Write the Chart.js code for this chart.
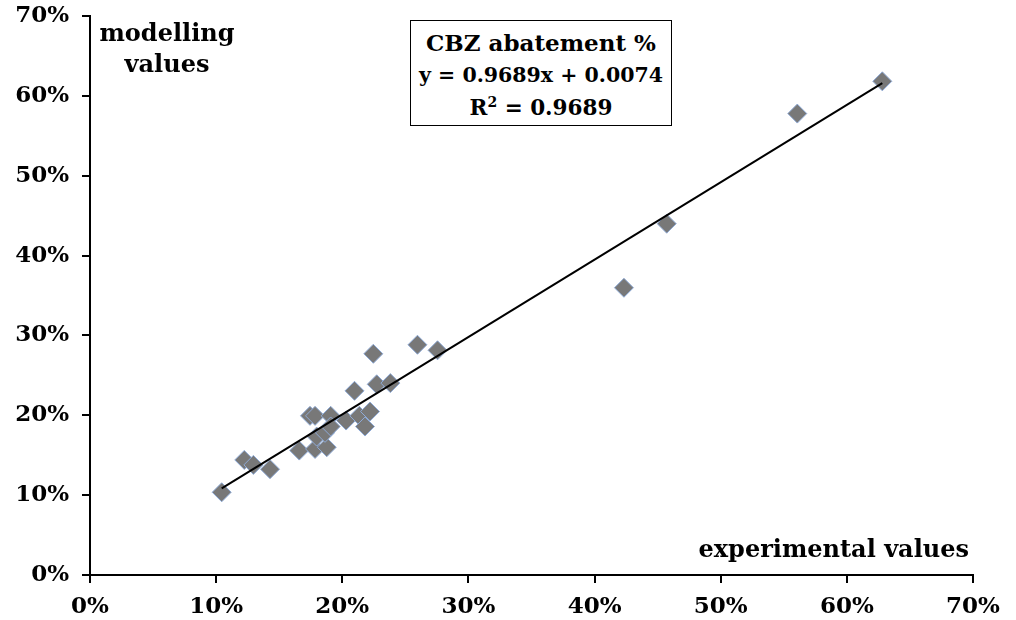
<!DOCTYPE html>
<html>
<head>
<meta charset="utf-8">
<script src="https://cdn.jsdelivr.net/npm/chart.js@4.4.0/dist/chart.umd.min.js"></script>
<style>
  html, body { margin: 0; padding: 0; background: #fff; }
  #wrap { position: relative; width: 1016px; height: 620px; }
  canvas { position: absolute; left: 0; top: 0; }
  .lbl { position: absolute; font-family: "DejaVu Serif", serif; font-weight: bold; color: #000; font-size: 24px; line-height: 31px; }
  #yTitle { left: 96px; top: 17px; width: 142px; text-align: center; }
  #xTitle { right: 47px; top: 533px; text-align: right; }
  #eqBox { left: 410px; top: 20px; width: 262px; height: 106px; border: 1.5px solid #000; background: #fff;
           text-align: center; box-sizing: border-box; padding-top: 6px; line-height: 31px; font-size: 23px; }
  #eqBox .eq { font-size: 20.5px; }
  #eqBox .r2 { font-size: 21.5px; }
</style>
</head>
<body>
<div id="wrap">
  <canvas id="chart" width="1016" height="620"></canvas>
  <div class="lbl" id="yTitle">modelling<br>values</div>
  <div class="lbl" id="xTitle">experimental values</div>
  <div class="lbl" id="eqBox">CBZ abatement %<br><span class="eq">y = 0.9689x + 0.0074</span><br><span class="r2">R<sup style="font-size:14px;line-height:0">2</sup> = 0.9689</span></div>
</div>
<script>
// experimental vs modelled CBZ abatement (fractions)
const expValues = [0.1044, 0.1223, 0.1295, 0.1427, 0.1659, 0.1784, 0.1877, 0.1744, 0.1784,
  0.1908, 0.1797, 0.1863, 0.1908, 0.2030, 0.2135, 0.2220, 0.2180, 0.2097, 0.2246, 0.2273,
  0.2381, 0.2596, 0.2755, 0.4233, 0.4572, 0.5607, 0.6281];
const modelValues = [0.1036, 0.1441, 0.1379, 0.1325, 0.1558, 0.1579, 0.1600, 0.1993, 0.1993,
  0.1993, 0.1733, 0.1780, 0.1859, 0.1934, 0.1993, 0.2047, 0.1859, 0.2306, 0.2770, 0.2388,
  0.2403, 0.2883, 0.2814, 0.3597, 0.4399, 0.5778, 0.6182];
const slope = 0.9689;
const intercept = 0.0074;
const tickValues = [0, 0.1, 0.2, 0.3, 0.4, 0.5, 0.6, 0.7];

const points = expValues.map((x, i) => ({ x: x, y: modelValues[i] }));
const xMin = Math.min(...expValues);
const xMax = Math.max(...expValues);
const trend = [
  { x: xMin, y: slope * xMin + intercept },
  { x: xMax, y: slope * xMax + intercept }
];

const tickFont = { family: 'DejaVu Serif', weight: 'bold', size: 23 };
const pct = v => Math.round(v * 100) + '%';

new Chart(document.getElementById('chart').getContext('2d'), {
  type: 'scatter',
  data: {
    datasets: [
      {
        label: 'trend',
        type: 'line',
        data: trend,
        borderColor: '#000',
        borderWidth: 2,
        pointRadius: 0,
        fill: false
      },
      {
        label: 'CBZ abatement %',
        data: points,
        pointStyle: 'rectRot',
        pointRadius: 9.5,
        pointHoverRadius: 9.5,
        backgroundColor: '#787878',
        borderColor: '#8eaad6',
        borderWidth: 1
      }
    ]
  },
  options: {
    responsive: false,
    animation: false,
    layout: { padding: { top: 16, right: 43, left: 0, bottom: 0 } },
    plugins: { legend: { display: false }, tooltip: { enabled: false } },
    scales: {
      x: {
        type: 'linear',
        min: 0, max: 0.7,
        afterBuildTicks: axis => { axis.ticks = tickValues.map(v => ({ value: v })); },
        afterFit: axis => { axis.height = 45; axis.paddingLeft = 0; axis.paddingRight = 0; },
        grid: { drawOnChartArea: false, drawTicks: true, tickLength: 8, color: '#000', lineWidth: 2 },
        border: { display: true, color: '#000', width: 2 },
        ticks: { color: '#000', font: tickFont, padding: 10, callback: pct, maxRotation: 0 }
      },
      y: {
        type: 'linear',
        min: 0, max: 0.7,
        afterBuildTicks: axis => { axis.ticks = tickValues.map(v => ({ value: v })); },
        afterFit: axis => { axis.width = 90; axis.paddingTop = 0; axis.paddingBottom = 0; },
        grid: { drawOnChartArea: false, drawTicks: true, tickLength: 8, color: '#000', lineWidth: 2 },
        border: { display: true, color: '#000', width: 2 },
        ticks: { color: '#000', font: tickFont, padding: 13, callback: pct }
      }
    }
  }
});
</script>
</body>
</html>
